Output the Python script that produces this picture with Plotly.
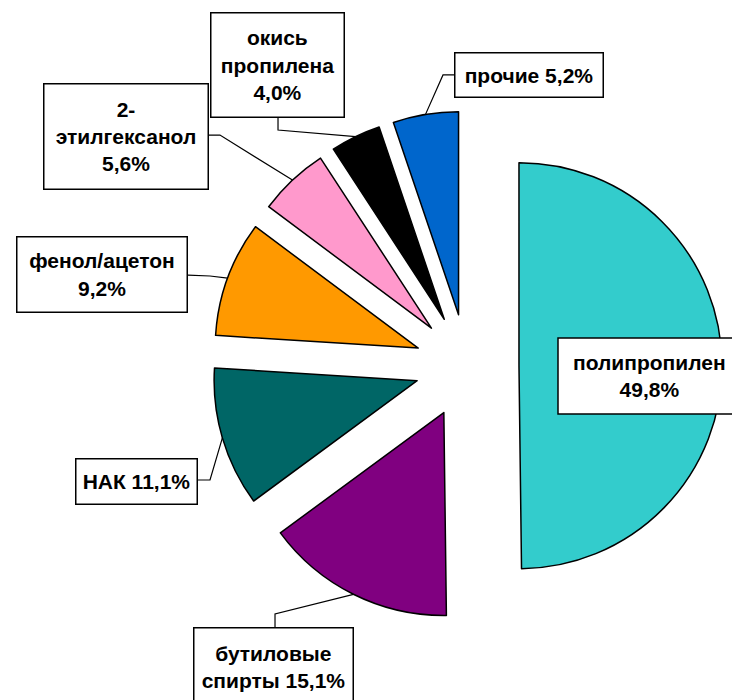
import math
import plotly.graph_objects as go

W, H = 732, 700

names = ["полипропилен", "бутиловые спирты", "НАК", "фенол/ацетон",
         "2-этилгексанол", "окись пропилена", "прочие"]
values = [49.8, 15.1, 11.1, 9.2, 5.6, 4.0, 5.2]
colors = ["#33CCCC", "#800080", "#006666", "#FF9900", "#FF99CC", "#000000", "#0066CC"]
label_lines = ["полипропилен<br>{v}", "бутиловые<br>спирты {v}", "НАК {v}",
               "фенол/ацетон<br>{v}", "2-<br>этилгексанол<br>{v}",
               "окись<br>пропилена<br>{v}", "прочие {v}"]

PULL = 0.256
CX, CY, R_OUT = 467, 366, 255  # pie box centre and half-size (px)
dom_x = [(CX - R_OUT) / W, (CX + R_OUT) / W]
dom_y = [1 - (CY + R_OUT) / H, 1 - (CY - R_OUT) / H]

# label boxes in pixels: left, top, width, height
boxes = [(558, 338, 182, 76), (193, 627, 161, 80), (75, 458, 123, 47),
         (16, 236, 172, 77), (43, 83, 166, 107), (210, 12, 135, 106), (454, 52, 150, 46)]
# leader-line start & elbow (pixels); None = no leader
leaders = [None, [(275, 627), (275, 614)], [(198, 480), (210, 480)],
           [(188, 275), (210, 276)], [(209, 135), (220, 135)],
           [(278, 118), (278, 130)], [(454, 75), (443, 75)]]

fmt = lambda v: ("%.1f" % v).replace(".", ",") + "%"
px2x = lambda px: px / W
py2y = lambda py: 1 - py / H

fig = go.Figure(go.Pie(
    labels=names, values=values, sort=False, direction="clockwise", rotation=0,
    marker=dict(colors=colors, line=dict(color="black", width=1.5)),
    pull=[PULL] * len(values), textinfo="none", hoverinfo="none",
    showlegend=False, domain=dict(x=dom_x, y=dom_y)))

# pie geometry (same as plotly's own), in pixels
cx = (dom_x[0] + dom_x[1]) / 2 * W
cy = (1 - (dom_y[0] + dom_y[1]) / 2) * H
r = min((dom_x[1] - dom_x[0]) * W, (dom_y[1] - dom_y[0]) * H) / 2 / (1 + PULL)
total = sum(values)

font = dict(family="Liberation Sans, Arial", size=21, color="black", weight="bold")
shapes, annotations = [], []
cum = 0
for i, v in enumerate(values):
    mid = (cum + v / 2) / total * 2 * math.pi
    cum += v
    ex = cx + (1 + PULL) * r * math.sin(mid)
    ey = cy - (1 + PULL) * r * math.cos(mid)
    if leaders[i]:
        pts = leaders[i] + [(ex, ey)]
        path = "M " + " L ".join("%.4f,%.4f" % (px2x(px), py2y(py)) for px, py in pts)
        shapes.append(dict(type="path", path=path, xref="paper", yref="paper",
                           line=dict(color="black", width=1.2)))
    bx, by, bw, bh = boxes[i]
    text = label_lines[i].format(v=fmt(v))
    if bx + bw > W:
        # box runs off the right edge: draw frame as a shape, text on top
        shapes.append(dict(type="rect", xref="paper", yref="paper",
                           x0=px2x(bx), x1=px2x(bx + bw), y0=py2y(by + bh), y1=py2y(by),
                           fillcolor="white", line=dict(color="black", width=1.5)))
        annotations.append(dict(
            x=px2x(bx + bw / 2), y=py2y(by + bh / 2), xref="paper", yref="paper",
            xanchor="center", yanchor="middle", text=text, showarrow=False,
            align="center", font=font))
    else:
        annotations.append(dict(
            x=px2x(bx), y=py2y(by), xref="paper", yref="paper", xanchor="left", yanchor="top",
            text=text, showarrow=False,
            width=bw - 3, height=bh - 3, align="center", valign="middle",
            bordercolor="black", borderwidth=1.5, borderpad=0, bgcolor="white", font=font))

fig.update_layout(width=W, height=H, margin=dict(l=0, r=0, t=0, b=0),
                  paper_bgcolor="white", plot_bgcolor="white",
                  shapes=shapes, annotations=annotations)
fig.write_html("out.html", config={"displayModeBar": False},
               post_script="document.body.style.margin='0';document.body.style.overflow='hidden';")
